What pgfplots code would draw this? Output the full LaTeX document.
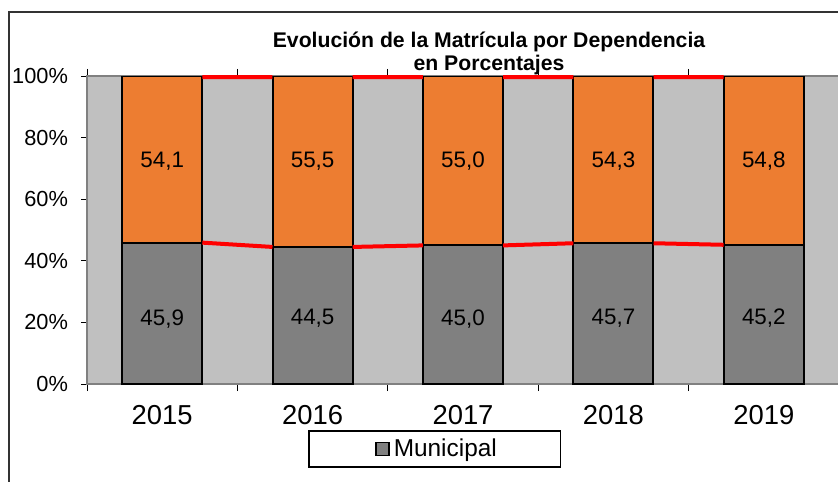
\documentclass[border=0pt]{standalone}
\usepackage{fontspec}
\setmainfont{Liberation Sans}
\usepackage{pgfplots}
\pgfplotsset{compat=1.18}
\definecolor{orangeBar}{HTML}{ED7D31}
\definecolor{grayBar}{HTML}{808080}
\definecolor{plotBg}{HTML}{C0C0C0}

\begin{document}
\begin{tikzpicture}
\useasboundingbox (0,0) rectangle (419pt,-240.5pt);
% outer chart border (cropped on right and bottom)
\draw[black!80, line width=0.6pt] (4.5pt,-241pt) -- (4.5pt,-6pt) -- (420pt,-6pt);
\node[font=\fontsize{10.6}{12}\selectfont\bfseries, anchor=base] at (244.5pt,-23.65pt) {Evolución de la Matrícula por Dependencia};
\node[font=\fontsize{10.6}{12}\selectfont\bfseries, anchor=base] at (244.5pt,-35pt) {en Porcentajes};

\begin{axis}[
    at={(43.5pt,-192pt)}, anchor=south west,
    scale only axis, width=376pt, height=154pt,
    ybar stacked, bar width=0.533,
    xmin=-0.5, xmax=4.5, ymin=0, ymax=100,
    axis background/.style={fill=plotBg},
    axis line style={grayBar, line width=0.6pt},
    xtick={0,...,4}, xticklabels={2015,2016,2017,2018,2019},
    minor xtick={-0.5,0.5,...,4.5},
    major x tick style={draw=none},
    ytick={0,20,...,100},
    yticklabel={\pgfmathprintnumber{\tick}\%},
    /pgf/number format/assume math mode=true,
    tick align=outside, major tick length=3pt, minor tick length=3.5pt,
    tick style={black, line width=0.5pt},
    xticklabel style={font=\fontsize{13.7}{15}\selectfont, yshift=-4pt},
    yticklabel style={font=\fontsize{10.9}{12}\selectfont, xshift=-3pt},
    legend style={at={(0.4627,-0.211)}, anchor=center, draw=black,
        line width=0.6pt, inner xsep=30pt, inner ysep=1.8pt,
        font=\fontsize{12.2}{13}\selectfont},
]
\addplot[fill=grayBar, draw=black, line width=1pt,
    legend image code/.code={\path (0pt,0pt); \draw[fill=grayBar, draw=black, line width=0.7pt] (3pt,-3.2pt) rectangle (9.5pt,3.2pt);}]
    coordinates {(0,45.9)(1,44.5)(2,45.0)(3,45.7)(4,45.2)};
\addlegendentry{Municipal}
\addplot[fill=orangeBar, draw=black, line width=1pt, forget plot]
    coordinates {(0,54.1)(1,55.5)(2,55.0)(3,54.3)(4,54.8)};
\end{axis}

\begin{axis}[
    at={(43.5pt,-192pt)}, anchor=south west,
    scale only axis, width=376pt, height=154pt,
    xmin=-0.5, xmax=4.5, ymin=0, ymax=100,
    hide axis, clip=false, unbounded coords=jump,
]
% series lines between the bars
\addplot[red, line width=2pt] coordinates {
    (0.2667,45.9)(0.7333,44.5)(0.8,nan)
    (1.2667,44.5)(1.7333,45.0)(1.8,nan)
    (2.2667,45.0)(2.7333,45.7)(2.8,nan)
    (3.2667,45.7)(3.7333,45.2)(3.8,nan)
    (0.2667,99.6)(0.7333,99.6)(0.8,nan)
    (1.2667,99.6)(1.7333,99.6)(1.8,nan)
    (2.2667,99.6)(2.7333,99.6)(2.8,nan)
    (3.2667,99.6)(3.7333,99.6)
};
% data labels in each segment
\addplot[draw=none, mark=none, nodes near coords={\pgfmathprintnumber[fixed, fixed zerofill, precision=1, use comma, assume math mode=true]{\pgfplotspointmeta}},
    nodes near coords align={center}, point meta=explicit,
    every node near coord/.append style={font=\fontsize{11.2}{12}\selectfont, anchor=center}]
    coordinates {
    (0,21.2)[45.9] (1,21.2)[44.5] (2,21.2)[45.0] (3,21.5)[45.7] (4,21.5)[45.2]
    (0,72.4)[54.1] (1,72.4)[55.5] (2,72.4)[55.0] (3,72.4)[54.3] (4,72.4)[54.8]
};
\end{axis}
\end{tikzpicture}
\end{document}
